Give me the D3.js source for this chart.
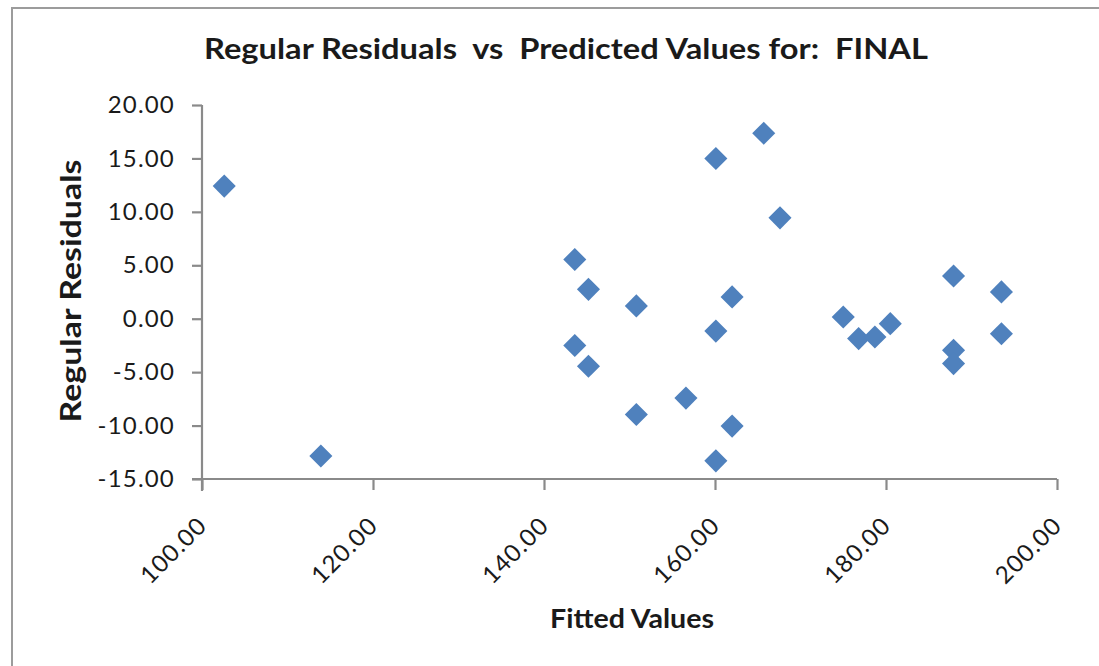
<!DOCTYPE html>
<html>
<head>
<meta charset="utf-8">
<script src="https://cdn.jsdelivr.net/npm/d3@7"></script>
<style>
  html, body { margin: 0; padding: 0; background: #fff; }
  svg { display: block; }
  text { font-family: Lato, "Liberation Sans", Arial, sans-serif; fill: #1a1a1a; }
</style>
</head>
<body>
<svg id="chart" width="1099" height="666"></svg>
<script>
// Fitted (predicted) values and their regular residuals
const fittedValues = [
  102.6, 113.9,
  165.7, 160.1, 167.6, 143.6, 145.2, 150.8, 162.0, 160.1, 143.6, 145.2,
  150.8, 156.6, 162.0, 160.1,
  175.0, 176.8, 178.7, 180.5, 187.9, 187.9, 187.9, 193.5, 193.5
];
const residuals = [
  12.41, -12.85,
  17.35, 15.0, 9.44, 5.54, 2.75, 1.2, 2.04, -1.16, -2.5, -4.45,
  -8.96, -7.43, -10.05, -13.3,
  0.16, -1.86, -1.71, -0.46, 4.0, -2.96, -4.2, 2.51, -1.4
];
const xTicks = [100, 120, 140, 160, 180, 200];
const yTicks = [20, 15, 10, 5, 0, -5, -10, -15];

const titleText = "Regular Residuals\u00a0\u00a0vs\u00a0\u00a0Predicted Values for:\u00a0\u00a0FINAL";
const xTitle = "Fitted Values";
const yTitle = "Regular Residuals";

const svg = d3.select("#chart");

// chart area frame
svg.append("rect")
  .attr("x", 12).attr("y", 8)
  .attr("width", 1100).attr("height", 700)
  .attr("fill", "#fff")
  .attr("stroke", "#9c9c9c")
  .attr("stroke-width", 2);

const x = d3.scaleLinear().domain([100, 200]).range([202, 1057]);
const y = d3.scaleLinear().domain([-15, 20]).range([479, 105]);

const axisColor = "#8a8a8a";
// two decimals, plain hyphen for negatives
const fmt = d3.formatLocale({ decimal: ".", thousands: ",", grouping: [3], currency: ["", ""], minus: "-" }).format(".2f");

// y axis
const gy = svg.append("g")
  .attr("transform", `translate(${x(100)},0)`)
  .call(d3.axisLeft(y).tickValues(yTicks).tickFormat(fmt).tickSize(10).tickPadding(17));
// x axis
const gx = svg.append("g")
  .attr("transform", `translate(0,${y(-15)})`)
  .call(d3.axisBottom(x).tickValues(xTicks).tickFormat(fmt).tickSize(11));

[gx, gy].forEach(g => {
  g.select(".domain").attr("stroke", axisColor).attr("stroke-width", 2.2);
  g.selectAll(".tick line").attr("stroke", axisColor).attr("stroke-width", 2.2);
  g.selectAll("text")
    .style("font-family", "Lato, 'Liberation Sans', Arial, sans-serif")
    .style("font-size", "24px")
    .style("letter-spacing", "1.2px")
    .attr("fill", "#1a1a1a");
});
gy.select(".domain").attr("d", `M0,${y(20)}V${y(-15) + 12}`);
gx.select(".domain").attr("d", `M${x(100) - 10},0H${x(200)}`);

// rotated x tick labels
gx.selectAll(".tick text")
  .attr("text-anchor", "end")
  .attr("x", 0).attr("y", 0).attr("dy", null)
  .attr("transform", "translate(6,48) rotate(-45)");

// markers
const diamond = d3.symbol().type(d3.symbolDiamond2).size(340);
svg.append("g")
  .selectAll("path")
  .data(fittedValues.map((v, i) => [v, residuals[i]]))
  .join("path")
  .attr("d", diamond)
  .attr("transform", d => `translate(${x(d[0])},${y(d[1])})`)
  .attr("fill", "#4f81bd");

// titles
svg.append("text")
  .attr("x", 566).attr("y", 59)
  .attr("text-anchor", "middle")
  .attr("textLength", 724)
  .attr("lengthAdjust", "spacingAndGlyphs")
  .style("font-size", "28px").style("font-weight", "bold")
  .text(titleText);

svg.append("text")
  .attr("x", 632).attr("y", 628)
  .attr("text-anchor", "middle")
  .attr("textLength", 164)
  .attr("lengthAdjust", "spacingAndGlyphs")
  .style("font-size", "26px").style("font-weight", "bold")
  .text(xTitle);

svg.append("text")
  .attr("transform", "translate(81,291) rotate(-90)")
  .attr("text-anchor", "middle")
  .attr("textLength", 263)
  .attr("lengthAdjust", "spacingAndGlyphs")
  .style("font-size", "28px").style("font-weight", "bold")
  .text(yTitle);
</script>
</body>
</html>
